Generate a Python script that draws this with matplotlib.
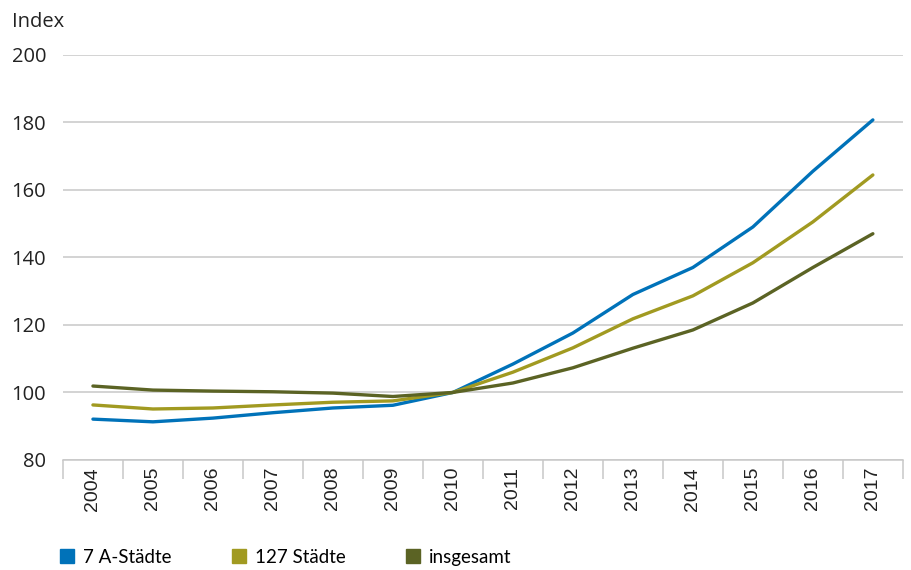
import matplotlib
matplotlib.use("Agg")
import matplotlib.pyplot as plt
from matplotlib.lines import Line2D
import numpy as np

years = ["2004", "2005", "2006", "2007", "2008", "2009", "2010",
         "2011", "2012", "2013", "2014", "2015", "2016", "2017"]
a_staedte = [92.1, 91.3, 92.4, 94.0, 95.4, 96.2, 100.0,
             108.4, 117.6, 129.0, 137.0, 149.0, 165.5, 180.7]
staedte127 = [96.3, 95.1, 95.4, 96.3, 97.1, 97.5, 100.0,
              106.0, 113.2, 121.8, 128.6, 138.4, 150.5, 164.4]
insgesamt = [101.9, 100.7, 100.4, 100.2, 99.8, 98.8, 100.0,
             102.8, 107.3, 113.1, 118.5, 126.5, 137.0, 147.0]
series_names = ["7 A-Städte", "127 Städte", "insgesamt"]
colors = ["#0072b9", "#a19a21", "#5b6324"]
y_ticks = [80, 100, 120, 140, 160, 180, 200]

fig = plt.figure(figsize=(9.12, 5.70), dpi=100)
ax = fig.add_axes([0.069, 0.193, 0.921, 0.711])

x = np.arange(len(years))
for vals, c in zip([a_staedte, staedte127, insgesamt], colors):
    ax.plot(x, vals, color=c, lw=2.4, solid_capstyle="round", solid_joinstyle="round")

ax.set_ylim(80, 200)
ax.set_xlim(-0.5, len(years) - 0.5)
ax.set_yticks(y_ticks)
ax.set_yticklabels([str(v) for v in y_ticks], fontfamily="Open Sans", fontsize=14.5, color="#222222")
ax.tick_params(axis="y", length=0, pad=12)
ax.grid(axis="y", color="#c8c8c8", lw=1.1)
ax.set_axisbelow(True)

ax.set_xticks(x)
ax.set_xticklabels(years, rotation=90, fontfamily="Liberation Sans", fontsize=14, color="#222222")
ax.tick_params(axis="x", which="major", length=0, pad=5)
ax.set_xticks(np.arange(-0.5, len(years)), minor=True)
ax.tick_params(axis="x", which="minor", length=14, color="#c8c8c8", width=1.1)

for s in ["top", "right", "left"]:
    ax.spines[s].set_visible(False)
ax.spines["bottom"].set_color("#c8c8c8")
ax.spines["bottom"].set_linewidth(1.1)

fig.text(0.013, 0.962, "Index", fontfamily="Open Sans", fontsize=14.5, color="#222222", va="center")

handles = [Line2D([], [], marker="s", linestyle="none", color=c, markersize=9.5) for c in colors]
fig.legend(handles, series_names, loc="lower left", bbox_to_anchor=(0.045, -0.022), ncol=3,
           frameon=False, prop={"family": "Lato", "size": 13.5}, handletextpad=0.35,
           columnspacing=3.1, handlelength=1.0)

fig.savefig("out.png", dpi=100)
